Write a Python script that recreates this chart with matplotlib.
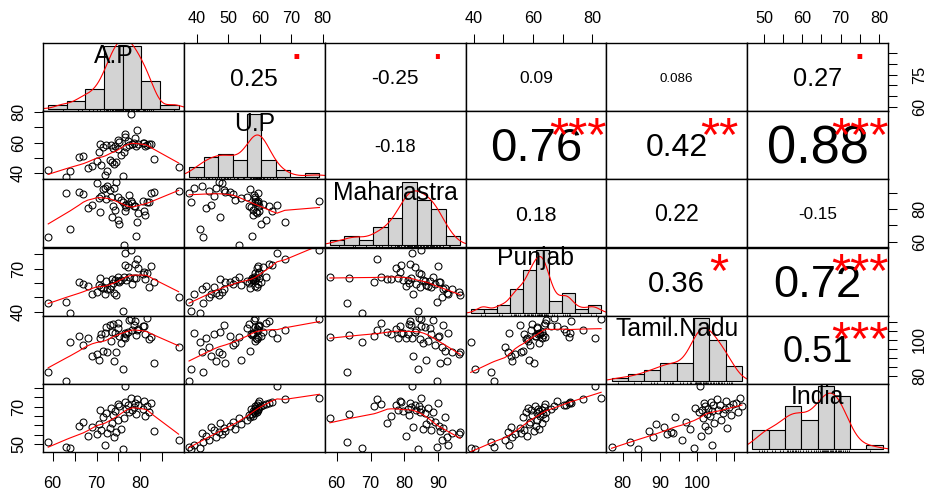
import numpy as np
import matplotlib
matplotlib.use("Agg")
import matplotlib.pyplot as plt
from matplotlib.textpath import TextPath
from matplotlib.font_manager import FontProperties

plt.rcParams["font.family"] = "Liberation Sans"
FP = FontProperties(family="Liberation Sans")

NAMES = ["A.P", "U.P", "Maharastra", "Punjab", "Tamil.Nadu", "India"]

AP = [76, 64, 63, 72, 59, 88.7, 74, 68, 70, 72.5, 74.5, 83, 71, 75.5, 73, 69,
      66, 70.5, 73.5, 67, 75, 76.2, 71.5, 81, 73.8, 79, 72.2, 82, 77.5, 74.2,
      78, 70.8, 80.5, 76.8, 73.2, 78.5, 75.2, 81.5, 79.5, 77.2, 74.8, 82.5,
      78.8, 76.4, 80.8, 79.2, 77.8, 76.6]
UP = [38, 41, 37.5, 39, 42, 44, 46, 43, 48, 41.5, 47, 49, 45.5, 52, 48.5, 44.5,
      50.5, 54, 47.5, 51.5, 56, 53.5, 57, 58, 56.5, 57.5, 58.5, 59, 58.2, 57.8,
      59.3, 58.8, 59.6, 57.2, 58.4, 59.8, 60.5, 58.6, 59.1, 61, 62, 59.4, 63,
      64, 59.9, 68, 79, 65.5]
MAHARASTRA = [84, 67.5, 89.5, 93, 63, 91, 92.5, 80.5, 96, 94, 96.5, 90.5, 88,
              85.5, 91.5, 82.5, 90.2, 86.5, 75, 89, 87.5, 58, 92, 76, 81.5,
              63.5, 86, 84.5, 88.5, 79.6, 83.5, 78, 85, 81, 87, 82, 71, 84.2,
              77.5, 83, 73, 89.8, 81.8, 79, 78.6, 72, 84.8, 82.2]
PUNJAB = [40.5, 39, 47, 52, 46, 50.5, 53, 58, 54, 56, 51.5, 60.5, 57, 62, 55.5,
          52.5, 61, 58.5, 63, 59, 61.5, 64, 56.5, 62.5, 59.7, 63.5, 61.2, 57.5,
          64.5, 62.2, 59.5, 63.2, 66, 61.8, 58.2, 63.8, 60.8, 67, 70.5, 71,
          64.2, 72, 73, 72.5, 68, 77, 83, 81]
TAMIL_NADU = [84, 99, 77, 104, 82, 96, 88, 101, 92, 93.5, 93, 87, 103, 98, 108,
              91, 102, 89, 104.5, 97, 106.5, 101.5, 94, 103.5, 109, 102.5, 107,
              100.5, 111, 104, 105.5, 101.2, 107.5, 103, 99.5, 108.5, 102, 112,
              106, 104.2, 109.5, 101.8, 110.5, 103.8, 107.8, 105.2, 111.5, 100.8]
INDIA = [47.0, 48.0, 48.5, 49.5, 51.0, 52.0, 53.5, 54.5, 55.5, 56.0, 56.5, 57.0,
         57.5, 58.0, 58.5, 59.0, 59.5, 60.5, 61.5, 62.0, 63.0, 64.0, 64.5, 65.2,
         65.8, 66.3, 66.8, 67.0, 67.3, 67.6, 68.0, 68.3, 68.7, 69.0, 69.4, 69.8,
         70.2, 70.5, 70.8, 71.2, 71.5, 71.8, 72.3, 72.8, 73.3, 74.0, 74.6, 81.0]
DATA = [np.array(v, float) for v in (AP, UP, MAHARASTRA, PUNJAB, TAMIL_NADU, INDIA)]

# upper triangle, row by row: (1,2) (1,3) ... (5,6)
COR_TEXT = ["0.25", "-0.25", "0.09", "0.086", "0.27",
            "-0.18", "0.76", "0.42", "0.88",
            "0.18", "0.22", "-0.15",
            "0.36", "0.72",
            "0.51"]
SIGNIF = [".", ".", "", "", ".",
          "", "***", "**", "***",
          "", "", "",
          "*", "***",
          "***"]

HIST_BREAKS = [np.arange(55, 91, 5), np.arange(35, 81, 5), np.arange(55, 101, 5),
               np.arange(35, 86, 5), np.arange(75, 116, 5), np.arange(45, 86, 5)]

# axis ticks: index -> (tick positions, labelled ticks)
TOP = {1: ([40, 50, 60, 70, 80], [40, 50, 60, 70, 80]),
       3: ([40, 50, 60, 70, 80], [40, 60, 80]),
       5: ([50, 55, 60, 65, 70, 75, 80], [50, 60, 70, 80])}
BOTTOM = {0: ([60, 65, 70, 75, 80, 85], [60, 70, 80]),
          2: ([60, 70, 80, 90], [60, 70, 80, 90]),
          4: ([80, 85, 90, 95, 100, 105, 110], [80, 90, 100])}
LEFT = {1: ([40, 50, 60, 70, 80], [40, 60, 80]),
        3: ([40, 50, 60, 70, 80], [40, 70]),
        5: ([50, 55, 60, 65, 70, 75, 80], [50, 70])}
RIGHT = {0: ([60, 65, 70, 75, 80, 85], [60, 75]),
         2: ([60, 70, 80, 90], [60, 80]),
         4: ([80, 85, 90, 95, 100, 105, 110], [80, 100])}

# ── helpers ──────────────────────────────────────────────────────────────────
W, H, DPI = 927, 491, 100
XE = np.linspace(43, 888, 7)
YE = np.linspace(43, 452, 7)
ADV = {**{d: 0.556 for d in "0123456789"}, ".": 0.278, "-": 0.333}  # Arial advances


def lim(v):
    lo, hi = v.min(), v.max()
    e = 0.04 * (hi - lo)
    return lo - e, hi + e


def lowess(x, y, f=2 / 3, iters=3):
    o = np.argsort(x, kind="mergesort")
    x, y = x[o], y[o]
    n = len(x)
    ns = max(min(int(f * n + 1e-7), n), 2)
    rob = np.ones(n)
    fit = np.zeros(n)
    for it in range(iters + 1):
        for i in range(n):
            d = np.abs(x - x[i])
            h = max(np.sort(d)[ns - 1], 1e-12)
            u = d / h
            w = np.where(u < 1, (1 - u ** 3) ** 3, 0) * rob
            sw = w.sum()
            if sw <= 0:
                fit[i] = y[i]
                continue
            xm, ym = (w * x).sum() / sw, (w * y).sum() / sw
            sxx = (w * (x - xm) ** 2).sum()
            b = (w * (x - xm) * (y - ym)).sum() / sxx if sxx > 1e-9 else 0
            fit[i] = ym + b * (x[i] - xm)
        if it == iters:
            break
        res = y - fit
        s = np.median(np.abs(res))
        if s == 0:
            break
        u = res / (6 * s)
        rob = np.where(np.abs(u) < 1, (1 - u ** 2) ** 2, 0)
    return x, fit


def density(x):
    n = len(x)
    q75, q25 = np.percentile(x, [75, 25])
    bw = 0.9 * min(x.std(ddof=1), (q75 - q25) / 1.34) * n ** -0.2
    g = np.linspace(x.min() - 3 * bw, x.max() + 3 * bw, 512)
    d = np.exp(-0.5 * ((g[:, None] - x[None, :]) / bw) ** 2).sum(1)
    return g, d / (n * bw * np.sqrt(2 * np.pi))


def put_text(x_px, y_px, s, size_px, color):
    # centre the ink of the string on (x_px, y_px), like R's text()
    bb = TextPath((0, 0), s, size=size_px, prop=FP).get_extents()
    base = y_px + (bb.y0 + bb.y1) / 2
    fig.text(x_px / W, 1 - base / H, s, fontsize=size_px * 72 / DPI,
             color=color, ha="center", va="baseline")


def set_ticks(ax, axis, spec, side):
    ticks, shown = spec
    labels = [str(t) if t in shown else "" for t in ticks]
    if axis == "x":
        ax.set_xticks(ticks, labels)
        if side == "top":
            ax.xaxis.tick_top()
        ax.tick_params(axis="x", length=6.7, width=0.75, labelsize=11.7,
                       pad=5.5 if side == "top" else 10.5)
    else:
        ax.set_yticks(ticks, labels)
        if side == "right":
            ax.yaxis.tick_right()
        ax.tick_params(axis="y", length=6.7, width=0.75, labelsize=11.7,
                       labelrotation=90, pad=5.5 if side == "left" else 10.5)
        for t in ax.get_yticklabels():
            t.set_va("center")


# ── figure ───────────────────────────────────────────────────────────────────
fig = plt.figure(figsize=(W / DPI, H / DPI), dpi=DPI)
pw = XE[1] - XE[0]
ph = YE[1] - YE[0]
label_px = 0.9 * pw / 5.112          # 'Tamil.Nadu' is 5.112 em wide
k = 0

for i in range(6):
    for j in range(6):
        ax = fig.add_axes([XE[j] / W, 1 - YE[i + 1] / H, pw / W, ph / H])
        ax.set_xticks([])
        ax.set_yticks([])
        for sp in ax.spines.values():
            sp.set_linewidth(1.0)
        if i == j:
            v = DATA[i]
            br = HIST_BREAKS[i]
            cnt = np.array([np.sum((v > a) & (v <= b)) for a, b in zip(br[:-1], br[1:])])
            cnt[0] += np.sum(v == br[0])
            dens = cnt / (len(v) * np.diff(br))
            ax.bar(br[:-1], dens, width=np.diff(br), align="edge", color="#D3D3D3",
                   edgecolor="black", linewidth=0.8)
            g, d = density(v)
            ax.plot(g, d, color="red", lw=0.8)
            span = br[-1] - br[0]
            ax.set_xlim(br[0] - 0.04 * span, br[-1] + 0.04 * span)
            top = dens.max()
            ax.set_ylim(-0.04 * top, 1.04 * top)
            y0 = -0.04 * top
            ax.vlines(v, y0, y0 + 0.03 * 1.08 * top, color="black", lw=0.6)
            put_text(XE[j] + 0.5 * pw, YE[i + 1] - 0.8333 * ph, NAMES[i],
                     label_px, "black")
        elif i > j:
            x, y = DATA[j], DATA[i]
            ax.plot(x, y, "o", mfc="none", mec="black", ms=5.0, mew=0.75)
            lx, ly = lowess(x, y)
            ax.plot(lx, ly, color="red", lw=0.8)
            ax.set_xlim(lim(x))
            ax.set_ylim(lim(y))
        else:
            ax.set_xlim(lim(DATA[j]))
            ax.set_ylim(lim(DATA[i]))
            txt = COR_TEXT[k]
            sig = SIGNIF[k]
            k += 1
            cex_px = 0.8 * pw / sum(ADV[c] for c in txt)
            r = abs(float(txt))
            put_text(XE[j] + 0.5 * pw, YE[i + 1] - 0.5 * ph, txt,
                     cex_px * (r + 0.3) / 1.3, "black")
            if sig:
                put_text(XE[j] + 0.8 * pw, YE[i + 1] - 0.8 * ph, sig,
                         0.85 * cex_px, "red")

        if i == 0 and j in TOP:
            set_ticks(ax, "x", TOP[j], "top")
        if i == 5 and j in BOTTOM:
            set_ticks(ax, "x", BOTTOM[j], "bottom")
        if j == 0 and i in LEFT:
            set_ticks(ax, "y", LEFT[i], "left")
        if j == 5 and i in RIGHT:
            set_ticks(ax, "y", RIGHT[i], "right")

fig.savefig("out.png", dpi=DPI)
